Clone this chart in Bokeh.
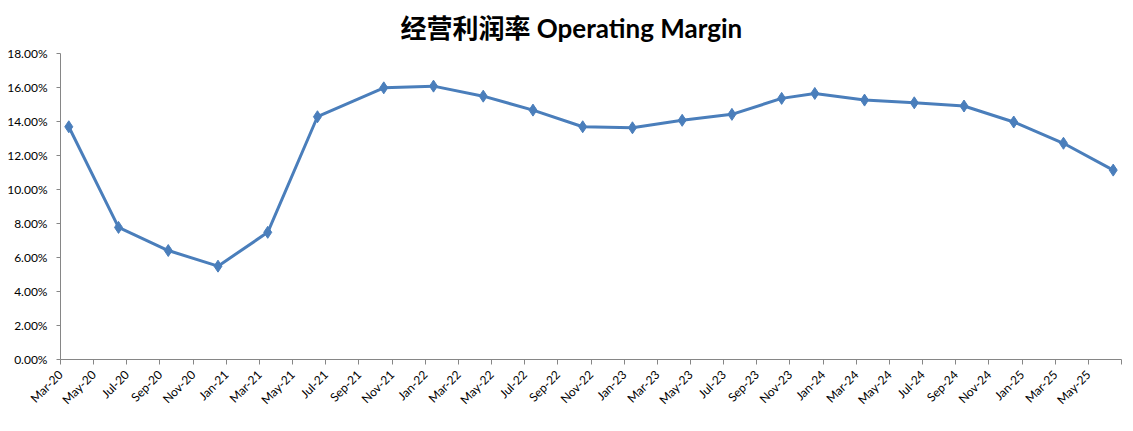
import math
from bokeh.plotting import figure
from bokeh.models import ColumnDataSource, FixedTicker, NumeralTickFormatter, Range1d
from bokeh.embed import file_html
from bokeh.resources import INLINE

# Data (quarterly reporting months, operating margin in %)
dates = ["2020-03", "2020-06", "2020-09", "2020-12", "2021-03", "2021-06",
         "2021-10", "2022-01", "2022-04", "2022-07", "2022-10", "2023-01",
         "2023-04", "2023-07", "2023-10", "2023-12", "2024-03", "2024-06",
         "2024-09", "2024-12", "2025-03", "2025-06"]
margin_pct = [13.69, 7.77, 6.41, 5.49, 7.48, 14.28, 15.98, 16.08, 15.49, 14.67,
              13.69, 13.63, 14.07, 14.42, 15.36, 15.65, 15.26, 15.10, 14.91,
              13.97, 12.72, 11.14]
tick_labels = ["Mar-20", "May-20", "Jul-20", "Sep-20", "Nov-20", "Jan-21",
               "Mar-21", "May-21", "Jul-21", "Sep-21", "Nov-21", "Jan-22",
               "Mar-22", "May-22", "Jul-22", "Sep-22", "Nov-22", "Jan-23",
               "Mar-23", "May-23", "Jul-23", "Sep-23", "Nov-23", "Jan-24",
               "Mar-24", "May-24", "Jul-24", "Sep-24", "Nov-24", "Jan-25",
               "Mar-25", "May-25"]
title_text = "经营利润率 Operating Margin"

START_YEAR, START_MONTH = 2020, 3


def month_index(s):
    y, m = s.split("-")
    return (int(y) - START_YEAR) * 12 + int(m) - START_MONTH


xs = [month_index(d) + 0.5 for d in dates]
ys = [v / 100.0 for v in margin_pct]
n_months = 2 * len(tick_labels)

src = ColumnDataSource(dict(x=xs, y=ys))

p = figure(width=1125, height=423, output_backend="svg", toolbar_location=None,
           x_range=Range1d(0, n_months), y_range=Range1d(0, 0.18),
           min_border_left=60, min_border_right=4, min_border_top=53,
           min_border_bottom=64)

p.title.text = title_text
p.title.align = "left"
p.title.offset = 340
p.title.standoff = 19
p.title.text_font = "Lato, 'Noto Sans CJK SC'"
p.title.text_font_style = "bold"
p.title.text_font_size = "26px"
p.title.text_color = "#000000"

p.outline_line_color = None
p.xgrid.visible = False
p.ygrid.visible = False

p.line("x", "y", source=src, line_color="#4A7EBB", line_width=3)
p.scatter("x", "y", source=src, marker="diamond", size=12,
          fill_color="#4A7EBB", line_color="#4A7EBB")

# X axis
tick_pos = list(range(0, n_months + 1, 2))
p.xaxis.ticker = FixedTicker(ticks=tick_pos)
overrides = {t: "" for t in tick_pos}
for i, lab in enumerate(tick_labels):
    overrides[2 * i] = lab
p.xaxis.major_label_overrides = overrides
p.xaxis.major_label_orientation = math.pi / 4
p.xaxis.major_label_standoff = 8
p.xaxis.minor_tick_line_color = None
p.xaxis.major_tick_in = 0
p.xaxis.major_tick_out = 5
p.xaxis.axis_line_color = "#868686"
p.xaxis.major_tick_line_color = "#868686"
p.xaxis.major_label_text_font = "Lato"
p.xaxis.major_label_text_font_size = "12px"
p.xaxis.major_label_text_color = "#000000"

# Y axis
p.yaxis.ticker = FixedTicker(ticks=[i * 0.02 for i in range(10)])
p.yaxis.formatter = NumeralTickFormatter(format="0.00%")
p.yaxis.minor_tick_line_color = None
p.yaxis.major_tick_in = 0
p.yaxis.major_tick_out = 4
p.yaxis.major_label_standoff = 9
p.yaxis.axis_line_color = "#868686"
p.yaxis.major_tick_line_color = "#868686"
p.yaxis.major_label_text_font = "Lato"
p.yaxis.major_label_text_font_size = "12px"
p.yaxis.major_label_text_color = "#000000"

open("out.html", "w").write(file_html(p, INLINE))
